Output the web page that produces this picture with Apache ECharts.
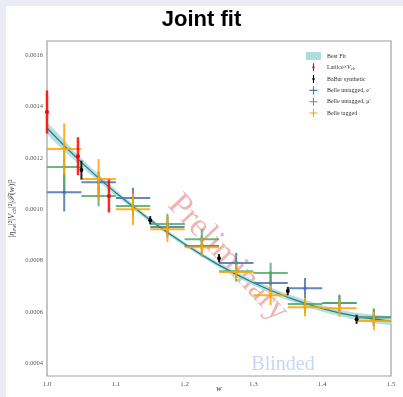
<!DOCTYPE html>
<html><head><meta charset="utf-8">
<script src="https://cdn.jsdelivr.net/npm/echarts@6/dist/echarts.min.js"></script>
<style>html,body{margin:0;padding:0;background:#ebebf7}#c{width:403px;height:397px}</style>
</head><body><div id="c"></div>
<script>
// Best fit curve and its band
const fitW   = [1.00, 1.05, 1.10, 1.15, 1.20, 1.25, 1.30, 1.35, 1.40, 1.45, 1.50];
const fitVal = [0.001316, 0.001182, 0.001064, 0.000958, 0.000864, 0.000782, 0.000713, 0.000657, 0.000613, 0.000582, 0.000564];
const fitErr = [0.000022, 0.000016, 0.000012, 0.000009, 0.000008, 0.000009, 0.000010, 0.000012, 0.000013, 0.000014, 0.000015];

// Lattice x Vcb
const latW   = [1.000, 1.045, 1.090];
const latVal = [0.001378, 0.001206, 0.001051];
const latErr = [0.000084, 0.000074, 0.000064];

// BaBar synthetic
const babW   = [1.05, 1.15, 1.25, 1.35, 1.45];
const babVal = [0.001152, 0.000957, 0.000809, 0.000681, 0.000571];
const babErr = [0.000037, 0.000016, 0.000016, 0.000016, 0.000018];

// Belle bins
const belleW    = [1.025, 1.075, 1.125, 1.175, 1.225, 1.275, 1.325, 1.375, 1.425, 1.475];
const belleHalf = 0.025;
const eVal  = [0.001066, 0.001105, 0.001043, 0.000930, 0.000856, 0.000790, 0.000712, 0.000692, 0.000634, 0.000579];
const eErr  = [0.000075, 0.000043, 0.000040, 0.000040, 0.000040, 0.000040, 0.000035, 0.000040, 0.000030, 0.000030];
const muVal = [0.001164, 0.001051, 0.001012, 0.000942, 0.000883, 0.000758, 0.000751, 0.000630, 0.000634, 0.000579];
const muErr = [0.000090, 0.000040, 0.000043, 0.000040, 0.000040, 0.000040, 0.000040, 0.000035, 0.000033, 0.000035];
const tgVal = [0.001234, 0.001117, 0.001000, 0.000922, 0.000852, 0.000755, 0.000665, 0.000618, 0.000614, 0.000564];
const tgErr = [0.000100, 0.000078, 0.000062, 0.000050, 0.000036, 0.000030, 0.000040, 0.000036, 0.000033, 0.000036];

// Ticks
const xTicks = [1.0, 1.1, 1.2, 1.3, 1.4, 1.5];
const yTicks = [0.0004, 0.0006, 0.0008, 0.0010, 0.0012, 0.0014, 0.0016];

const SERIF = 'Liberation Serif';
const C = {blue:'#4c72b0', green:'#55a868', orange:'#ffa500', red:'#ff0000', black:'#000000', band:'#b0dcdc', line:'#1d7f80'};

function errSeries(name, color, xs, ys, es, xe, lw, r) {
  return {
    type: 'custom', name: name, z: 5,
    itemStyle: {color: color},
    encode: {x: 0, y: 1},
    data: xs.map((x, i) => [x, ys[i], es[i], xe]),
    renderItem: function (params, api) {
      const x = api.value(0), y = api.value(1), e = api.value(2), h = api.value(3);
      const c = api.coord([x, y]), t = api.coord([x, y + e]), b = api.coord([x, y - e]);
      const ch = [{type: 'line', shape: {x1: c[0], y1: t[1], x2: c[0], y2: b[1]}, style: {stroke: color, lineWidth: lw, opacity: 0.85}}];
      if (h > 0) {
        const l = api.coord([x - h, y]), rr = api.coord([x + h, y]);
        ch.push({type: 'line', shape: {x1: l[0], y1: c[1], x2: rr[0], y2: c[1]}, style: {stroke: color, lineWidth: lw, opacity: 0.85}});
      }
      ch.push({type: 'circle', shape: {cx: c[0], cy: c[1], r: r}, style: {fill: color}});
      return {type: 'group', children: ch};
    }
  };
}

const bandSeries = {
  type: 'custom', name: 'Best Fit', z: 2,
  itemStyle: {color: C.band},
  data: [[fitW[0], fitVal[0]]],
  encode: {x: 0, y: 1},
  renderItem: function (params, api) {
    const pts = [];
    for (let i = 0; i < fitW.length; i++) pts.push(api.coord([fitW[i], fitVal[i] + fitErr[i]]));
    for (let i = fitW.length - 1; i >= 0; i--) pts.push(api.coord([fitW[i], fitVal[i] - fitErr[i]]));
    return {type: 'polygon', shape: {points: pts, smooth: 0.2}, style: {fill: C.band, opacity: 0.9}};
  }
};

const crossIcon = 'path://M0,4.3H10V5.7H0Z M4.3,0H5.7V10H4.3Z';
const vertIcon = 'path://M4.3,0H5.7V10H4.3Z M5,2.8L6.8,5L5,7.2L3.2,5Z';

const chart = echarts.init(document.getElementById('c'), null, {renderer: 'canvas'});
chart.setOption({
  animation: false,
  backgroundColor: '#ebebf7',
  graphic: [
    {type: 'rect', z: -10, shape: {x: 6, y: 6, width: 397, height: 391}, style: {fill: '#ffffff'}},
    {type: 'text', z: 1, x: 228, y: 258, rotation: -0.82,
     style: {text: 'Preliminary', font: '34px "Liberation Serif"', fill: 'rgba(215,90,90,0.45)', align: 'center', verticalAlign: 'middle', textAlign: 'center', textVerticalAlign: 'middle'}},
    {type: 'text', z: 1, x: 283, y: 365,
     style: {text: 'Blinded', font: '20px "Liberation Serif"', fill: '#c6d6f4', align: 'center', verticalAlign: 'middle', textAlign: 'center', textVerticalAlign: 'middle'}}
  ],
  title: {
    text: 'Joint fit', left: 'center', top: 4,
    textStyle: {fontFamily: 'Liberation Sans', fontWeight: 'bold', fontSize: 22, color: '#000'}
  },
  legend: {
    orient: 'vertical', left: 301, top: 47,
    itemWidth: 15, itemHeight: 8, itemGap: 3.3,
    selectedMode: false,
    textStyle: {fontFamily: SERIF, fontSize: 6, color: '#333', padding: [0, 0, 0, 1],
      rich: {it: {fontFamily: SERIF, fontStyle: 'italic', fontSize: 6, color: '#333'},
             sub: {fontFamily: SERIF, fontStyle: 'italic', fontSize: 4.5, color: '#333', verticalAlign: 'bottom', lineHeight: 9}}},
    formatter: function (n) {
      if (n === 'Lattice×Vcb') return 'Lattice×{it|V}{sub|cb}';
      return n;
    },
    data: [
      {name: 'Best Fit', icon: 'rect'},
      {name: 'Lattice×Vcb', icon: vertIcon},
      {name: 'BaBar synthetic', icon: vertIcon},
      {name: 'Belle untagged, e⁻', icon: crossIcon},
      {name: 'Belle untagged, μ⁻', icon: crossIcon},
      {name: 'Belle tagged', icon: crossIcon}
    ]
  },
  grid: {left: 47, right: 12, top: 41, bottom: 21, show: true, borderColor: '#a0a0a0', borderWidth: 1.2, backgroundColor: '#ffffff', outerBoundsMode: 'none', containLabel: false},
  xAxis: {
    type: 'value', min: 1.0, max: 1.5,
    name: 'w', nameLocation: 'middle', nameGap: 9, nameMoveOverlap: false,
    nameTextStyle: {fontFamily: SERIF, fontStyle: 'italic', fontSize: 8, color: '#333'},
    axisLine: {show: false}, axisTick: {show: false}, splitLine: {show: false},
    axisLabel: {customValues: xTicks, fontFamily: SERIF, fontSize: 7, color: '#555', margin: 5,
      formatter: v => v.toFixed(1)}
  },
  yAxis: {
    type: 'value', min: 0.00035, max: 0.001655,
    name: '|{it|η}{sub|ew}|²|{it|V}{sub|cb}|²|{it|ℱ}({it|w})|²', nameLocation: 'middle', nameGap: 30, nameMoveOverlap: false,
    nameTextStyle: {fontFamily: SERIF, fontSize: 8.5, color: '#444',
      rich: {it: {fontFamily: SERIF, fontStyle: 'italic', fontSize: 8.5, color: '#444'},
             sub: {fontFamily: SERIF, fontStyle: 'italic', fontSize: 6, color: '#444', verticalAlign: 'bottom', lineHeight: 11}}},
    axisLine: {show: false}, axisTick: {show: false}, splitLine: {show: false},
    axisLabel: {customValues: yTicks, fontFamily: SERIF, fontSize: 6.5, color: '#555', margin: 4,
      formatter: v => v.toFixed(4)}
  },
  series: [
    bandSeries,
    {type: 'line', name: 'fit', z: 3, smooth: true, symbol: 'none',
     data: fitW.map((w, i) => [w, fitVal[i]]),
     lineStyle: {color: C.line, width: 1.2}},
    errSeries('Belle untagged, e⁻', C.blue, belleW, eVal, eErr, belleHalf, 2, 1.8),
    errSeries('Belle untagged, μ⁻', C.green, belleW, muVal, muErr, belleHalf, 2, 1.8),
    errSeries('Belle tagged', C.orange, belleW, tgVal, tgErr, belleHalf, 2, 1.8),
    errSeries('BaBar synthetic', C.black, babW, babVal, babErr, 0, 2, 2),
    errSeries('Lattice×Vcb', C.red, latW, latVal, latErr, 0, 2.5, 2)
  ]
});
</script></body></html>
